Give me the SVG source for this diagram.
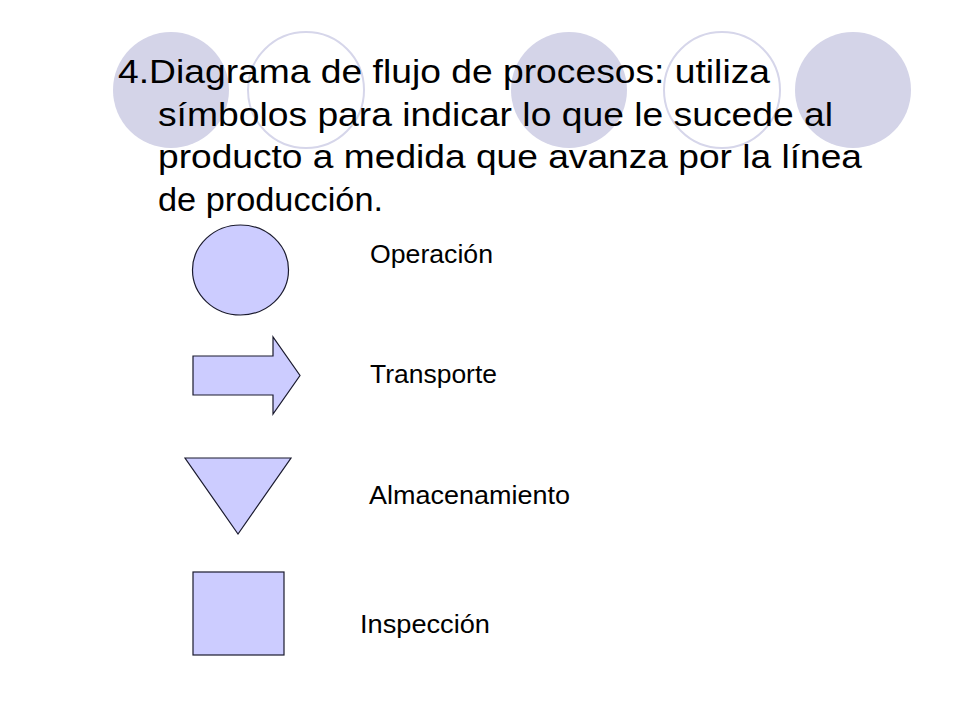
<svg xmlns="http://www.w3.org/2000/svg" width="960" height="720" viewBox="0 0 960 720">
<style>
.bgf{fill:#d4d4e8;stroke:none}
.bgo{fill:none;stroke:#d6d6ea;stroke-width:2}
.title{font-family:"Liberation Sans",Arial,sans-serif;font-size:34px;fill:#000}
.lbl{font-family:"Liberation Sans",Arial,sans-serif;font-size:25px;fill:#000}
.sym{fill:#ccccff;stroke:#1a1a2e;stroke-width:1.2}
</style>
<rect width="960" height="720" fill="#fff"/>
<g id="background">
<circle class="bgf" cx="171" cy="90" r="58"/>
<circle class="bgo" cx="306" cy="90" r="58"/>
<circle class="bgf" cx="569" cy="90" r="58"/>
<circle class="bgo" cx="722" cy="90" r="58"/>
<circle class="bgf" cx="853" cy="90" r="58"/>
</g>
<g id="title">
<text class="title" x="118" y="83" textLength="652" lengthAdjust="spacingAndGlyphs">4.Diagrama de flujo de procesos: utiliza</text>
<text class="title" x="158" y="126" textLength="675" lengthAdjust="spacingAndGlyphs">símbolos para indicar lo que le sucede al</text>
<text class="title" x="158" y="168" textLength="704" lengthAdjust="spacingAndGlyphs">producto a medida que avanza por la línea</text>
<text class="title" x="158" y="211" textLength="225" lengthAdjust="spacingAndGlyphs">de producción.</text>
</g>
<g id="operacion">
<ellipse class="sym" cx="240.5" cy="270" rx="48" ry="45"/>
<text class="lbl" x="370" y="263" textLength="123" lengthAdjust="spacingAndGlyphs">Operación</text>
</g>
<g id="transporte">
<polygon class="sym" points="193,356 273,356 273,337 300,375.5 273,414 273,395 193,395"/>
<text class="lbl" x="370" y="383" textLength="127" lengthAdjust="spacingAndGlyphs">Transporte</text>
</g>
<g id="almacenamiento">
<polygon class="sym" points="185,458 291,458 238,534"/>
<text class="lbl" x="369" y="504" textLength="201" lengthAdjust="spacingAndGlyphs">Almacenamiento</text>
</g>
<g id="inspeccion">
<rect class="sym" x="193" y="572" width="91" height="83"/>
<text class="lbl" x="360" y="633" textLength="130" lengthAdjust="spacingAndGlyphs">Inspección</text>
</g>
<g id="connectors"></g>
</svg>
